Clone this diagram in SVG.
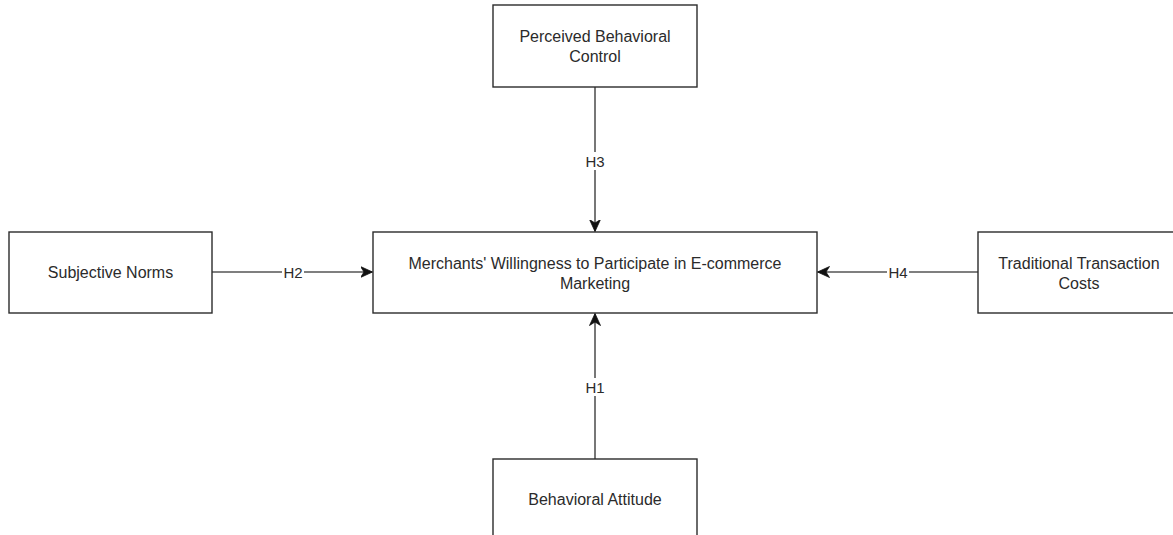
<svg xmlns="http://www.w3.org/2000/svg" width="1173" height="535" viewBox="0 0 1173 535">
<style>
.box{fill:#fff;stroke:#2b2b2b;stroke-width:1.4}
.t{font-family:"Liberation Sans",Arial,sans-serif;font-size:16px;fill:#2b2b2b;text-anchor:middle}
.l{font-family:"Liberation Sans",Arial,sans-serif;font-size:15px;fill:#2b2b2b;text-anchor:middle}
.c{stroke:#555;stroke-width:1.6;fill:none}
.lb{fill:#fff}
</style>
<defs>
<marker id="arr" markerUnits="userSpaceOnUse" markerWidth="14" markerHeight="13" refX="12" refY="6" orient="auto">
<path d="M0,0.5 L12,6 L0,11.5 L3.5,6 Z" fill="#111" stroke="#111" stroke-width="0.8"/>
</marker>
</defs>
<rect width="1173" height="535" fill="#fff"/>
<g id="connectors">
<path class="c" d="M595,87 L595,231.5" marker-end="url(#arr)"/>
<rect class="lb" x="585" y="152" width="20" height="18"/>
<text class="l" x="595" y="166.5">H3</text>
<path class="c" d="M212,272 L372.5,272" marker-end="url(#arr)"/>
<rect class="lb" x="282" y="264" width="22" height="16"/>
<text class="l" x="293" y="277.5">H2</text>
<path class="c" d="M978,272 L817.5,272" marker-end="url(#arr)"/>
<rect class="lb" x="887" y="264" width="22" height="16"/>
<text class="l" x="898" y="277.5">H4</text>
<path class="c" d="M595,459 L595,313.5" marker-end="url(#arr)"/>
<rect class="lb" x="585" y="378" width="20" height="18"/>
<text class="l" x="595" y="392.5">H1</text>
</g>
<g id="node-pbc">
<rect class="box" x="493" y="5" width="204" height="82"/>
<text class="t" x="595" y="41.5">Perceived Behavioral</text>
<text class="t" x="595" y="62">Control</text>
</g>
<g id="node-center">
<rect class="box" x="373" y="232" width="444" height="81"/>
<text class="t" x="595" y="268.5">Merchants' Willingness to Participate in E-commerce</text>
<text class="t" x="595" y="288.5">Marketing</text>
</g>
<g id="node-sn">
<rect class="box" x="9" y="232" width="203" height="81"/>
<text class="t" x="110.5" y="278">Subjective Norms</text>
</g>
<g id="node-ttc">
<rect class="box" x="978" y="232" width="204" height="81"/>
<text class="t" x="1079" y="268.5">Traditional Transaction</text>
<text class="t" x="1079" y="288.5">Costs</text>
</g>
<g id="node-ba">
<rect class="box" x="493" y="459" width="204" height="82"/>
<text class="t" x="595" y="505">Behavioral Attitude</text>
</g>
</svg>
